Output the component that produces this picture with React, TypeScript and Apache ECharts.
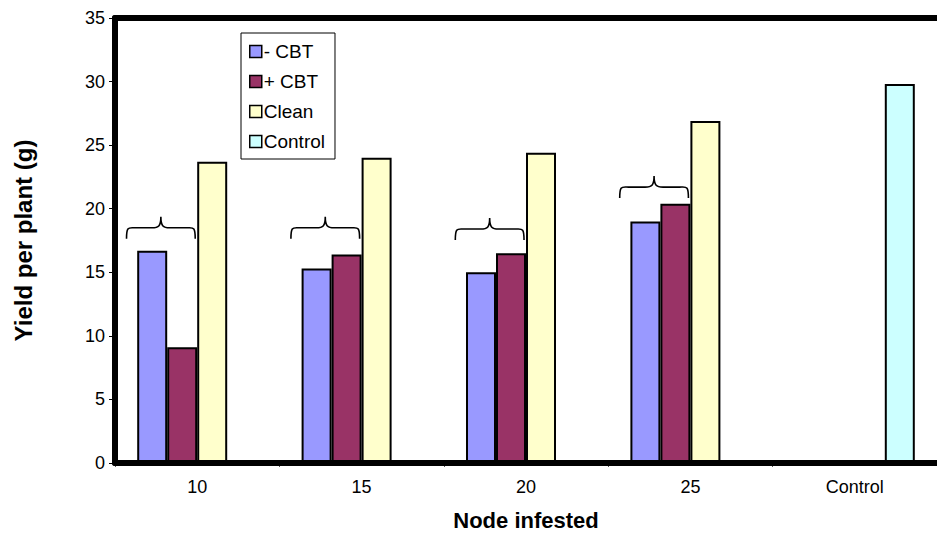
import React, { useEffect, useRef } from "react";
import * as echarts from "echarts";

// Node-infestation yield trial (g per plant)
const categories = ["10", "15", "20", "25", "Control"];
const minusCBT = [16.7, 15.3, 15.0, 19.0, null];
const plusCBT = [9.1, 16.4, 16.5, 20.4, null];
const clean = [23.7, 24.0, 24.4, 26.9, null];
const control = [null, null, null, null, 29.8];
// Grouping braces over the -CBT / +CBT pairs: [category index, brace level]
const braces: [number, number][] = [
  [0, 18.5],
  [1, 18.5],
  [2, 18.4],
  [3, 21.7],
];

const FONT = "'Liberation Sans', Arial, Helvetica, sans-serif";

const toData = (arr: (number | null)[]) => arr.map((v) => (v == null ? "-" : v));

export default function App() {
  const ref = useRef<HTMLDivElement>(null);

  useEffect(() => {
    if (!ref.current) return;
    const chart = echarts.init(ref.current, null, { renderer: "svg" });

    const barStyle = (color: string) => ({
      color,
      borderColor: "#000",
      borderWidth: 2,
    });

    // heavy frame line along an edge of the plot area
    const frameAxis = (position: "top" | "bottom") => ({
      type: "category",
      data: categories,
      position,
      z: 10,
      axisLine: { show: true, lineStyle: { color: "#000", width: 6 } },
      axisTick: { show: false },
      axisLabel: { show: false },
      splitLine: { show: false },
    });

    const option: any = {
      animation: false,
      backgroundColor: "#fff",
      textStyle: { fontFamily: FONT, color: "#000" },
      grid: {
        left: 115,
        top: 18,
        width: 829,
        height: 446,
        show: false,
      },
      legend: {
        orient: "vertical",
        left: 241,
        top: 33,
        padding: [9, 10, 8, 8],
        itemGap: 11,
        itemWidth: 12,
        itemHeight: 12,
        icon: "rect",
        borderColor: "#000",
        borderWidth: 1,
        backgroundColor: "#fff",
        itemStyle: { borderColor: "#000", borderWidth: 1.5 },
        textStyle: { fontFamily: FONT, fontSize: 19, color: "#000", padding: [0, 0, 0, -3] },
        data: ["- CBT", "+ CBT", "Clean", "Control"],
      },
      xAxis: [
        {
          type: "category",
          data: categories,
          offset: 5,
          axisLine: { show: true, lineStyle: { color: "#888", width: 1 } },
          axisTick: { show: true, length: 4, lineStyle: { color: "#555" } },
          axisLabel: { fontFamily: FONT, fontSize: 18, color: "#000", margin: 10 },
          name: "Node infested",
          nameLocation: "middle",
          nameGap: 41,
          nameTextStyle: { fontFamily: FONT, fontSize: 22, fontWeight: "bold", color: "#000" },
        },
        frameAxis("bottom"),
        frameAxis("top"),
      ],
      yAxis: {
        type: "value",
        min: 0,
        max: 35,
        interval: 5,
        z: 10,
        axisLine: { show: true, lineStyle: { color: "#000", width: 6 } },
        axisTick: { show: true, length: 6, lineStyle: { color: "#000" } },
        splitLine: { show: false },
        axisLabel: { fontFamily: FONT, fontSize: 18, color: "#000", margin: 10 },
        name: "Yield per plant (g)",
        nameLocation: "middle",
        nameGap: 80,
        nameTextStyle: { fontFamily: FONT, fontSize: 24, fontWeight: "bold", color: "#000" },
      },
      series: [
        { name: "- CBT", type: "bar", barWidth: 30, barGap: "0%", data: toData(minusCBT), itemStyle: barStyle("#9999FF") },
        { name: "+ CBT", type: "bar", barWidth: 30, barGap: "0%", data: toData(plusCBT), itemStyle: barStyle("#993366") },
        { name: "Clean", type: "bar", barWidth: 30, barGap: "0%", data: toData(clean), itemStyle: barStyle("#FFFFCC") },
        { name: "Control", type: "bar", barWidth: 30, barGap: "0%", data: toData(control), itemStyle: barStyle("#CCFFFF") },
        {
          name: "braces",
          type: "custom",
          z: 5,
          silent: true,
          encode: { x: 0, y: 1 },
          data: braces,
          renderItem: (params: any, api: any) => {
            const p = api.coord([api.value(0), api.value(1)]);
            const band = api.size([1, 0])[0];
            const x0 = p[0] - band * 0.43;
            const x1 = p[0] - band * 0.012;
            const xm = (x0 + x1) / 2;
            const yl = p[1];
            const ye = yl + 11;
            const yt = yl - 11;
            const r = 9;
            const d =
              `M${x0},${ye} C${x0},${yl - 2} ${x0 + 2},${yl} ${x0 + r},${yl} L${xm - r},${yl} ` +
              `C${xm - 2},${yl} ${xm},${yl - 2} ${xm},${yt} C${xm},${yl - 2} ${xm + 2},${yl} ${xm + r},${yl} ` +
              `L${x1 - r},${yl} C${x1 - 2},${yl} ${x1},${yl - 2} ${x1},${ye}`;
            return {
              type: "path",
              shape: { pathData: d },
              style: { stroke: "#000", fill: "none", lineWidth: 1.6 },
            };
          },
        },
      ],
    };

    chart.setOption(option);
    return () => chart.dispose();
  }, []);

  return (
    <div
      ref={ref}
      style={{ position: "fixed", left: 0, top: 0, width: 937, height: 536, background: "#fff" }}
    />
  );
}
